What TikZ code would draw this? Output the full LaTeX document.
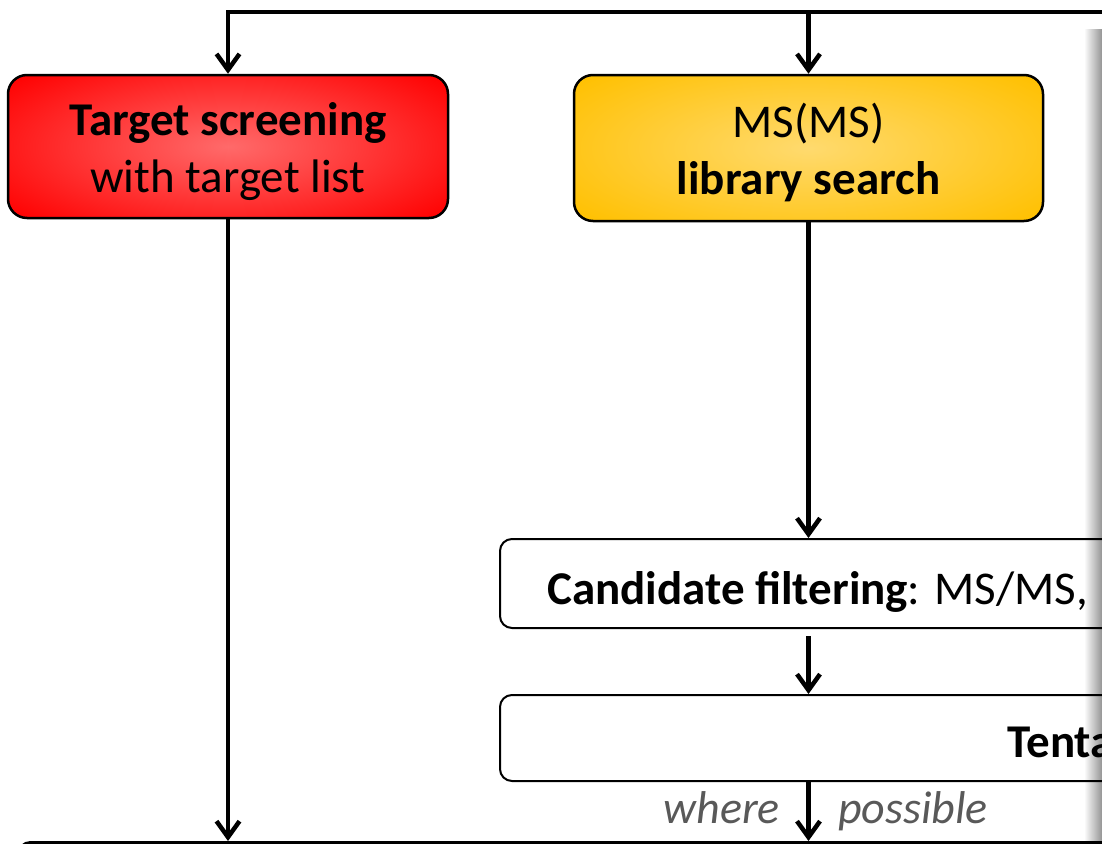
\documentclass[tikz,border=0pt]{standalone}
\usepackage{fontspec}
\setmainfont{Carlito}
\usetikzlibrary{arrows.meta}
\definecolor{boxred}{HTML}{FF0000}
\definecolor{glowred}{HTML}{FF6A6A}
\definecolor{boxamber}{HTML}{FFC000}
\definecolor{glowamber}{HTML}{FFDA6E}
\definecolor{notegray}{HTML}{595959}
\begin{document}
\begin{tikzpicture}[x=1pt,y=-1pt,
  flow/.style={line width=4.5pt, line join=miter,
    -{Straight Barb[length=16pt,width=23pt]}},
  big/.style={font=\fontsize{47}{57}\selectfont},
  glow/.style 2 args={fill=#2, path picture={
    \shade[inner color=#1, outer color=#2]
      ([xshift=-70pt,yshift=-35pt]path picture bounding box.south west)
      rectangle ([xshift=70pt,yshift=35pt]path picture bounding box.north east);}},
  stagebox/.style={draw, line width=2.5pt, rounded corners=19pt, inner sep=0pt,
    align=center, big},
  framebox/.style={draw, line width=2pt, rounded corners=12pt, inner sep=0pt},
  note/.style={font=\fontsize{46}{55}\selectfont\itshape, text=notegray, inner sep=0pt}]

\useasboundingbox (0,0) rectangle (1102,843);
\clip (0,0) rectangle (1102,843);

% soft shadow along the right edge
\shade[left color=white, right color=black!42] (1084,30) rectangle (1102,843);

% top row of stages
\node (red) [stagebox, glow={glowred}{boxred}, minimum width=440pt, minimum height=143pt]
  at (228,146.5) {};
\node (redtext) [big, align=center, inner sep=0pt] at (228,151.5)
  {\textbf{Target screening}\\with target list};
\node (amber) [stagebox, glow={glowamber}{boxamber}, minimum width=469pt, minimum height=146pt]
  at (808.5,148) {};
\node (ambertext) [big, align=center, inner sep=0pt] at (808.5,153)
  {MS(MS)\\\textbf{library search}};

% lower frames
\node (cand) [framebox, anchor=north west, minimum width=800pt, minimum height=89pt] at (499,538) {};
\node (candtext) [big, anchor=base west, inner sep=0pt] at (547,604)
  {\textbf{Candidate filtering}: MS/MS,};
\node (tent) [framebox, anchor=north west, minimum width=800pt, minimum height=86pt] at (499,694) {};
\node (tenttext) [big, anchor=base west, inner sep=0pt] at (1007,757) {\textbf{Tenta}};
\node (next) [framebox, line width=3pt, anchor=north west, minimum width=1200pt, minimum height=120pt]
  at (17,841) {};

% connectors
\coordinate (feed) at (1120,12);
\draw[flow] (feed) -| (red.north);
\draw[flow] (feed -| amber.north) -- (amber.north);
\draw[flow] (red.south) -- (red.south |- next.north);
\draw[flow] (amber.south) -- (amber.south |- cand.north);
\draw[flow, shorten <=7pt] (cand.south -| amber.south) -- (tent.north -| amber.south);
\draw[flow] (tent.south -| amber.south) -- (next.north -| amber.south);

\node (where) [note, anchor=base east] at (780,823) {where};
\node (possible) [note, anchor=base west] at (838,823) {possible};
\end{tikzpicture}
\end{document}
